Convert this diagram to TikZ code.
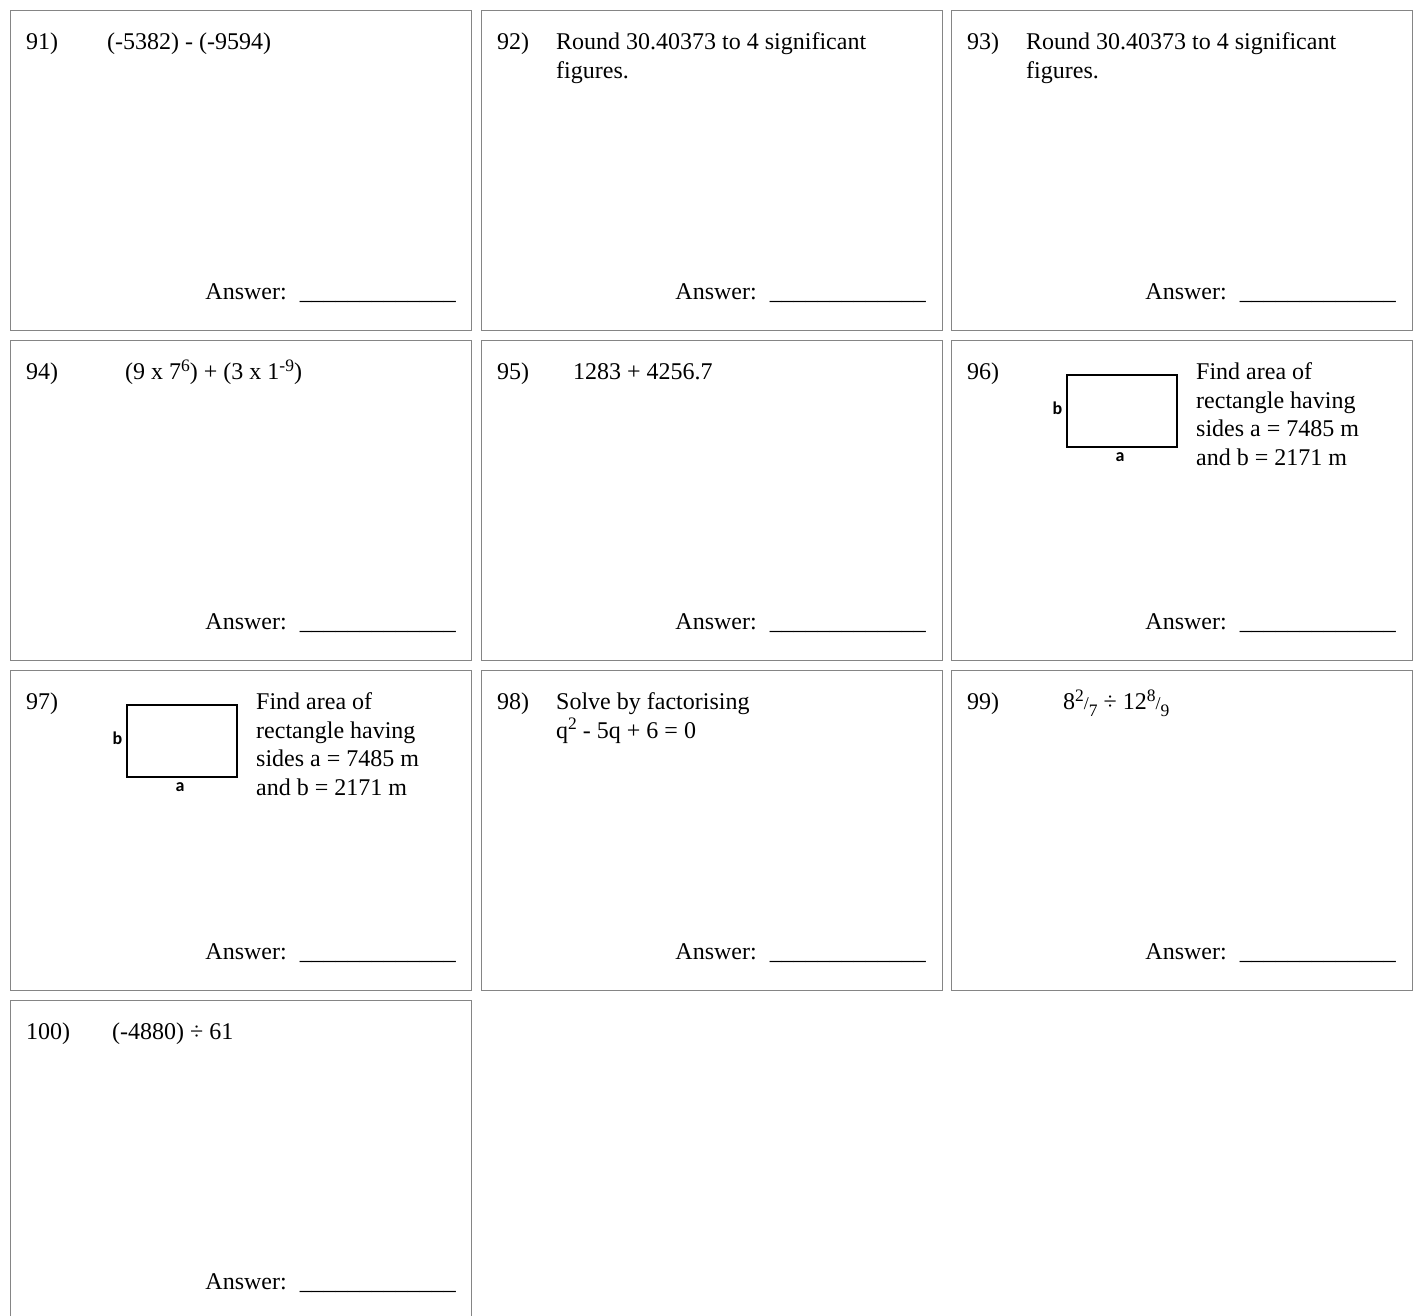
\documentclass[tikz,border=0pt]{standalone}
\usepackage{fontspec}
\setmainfont{Liberation Serif}
\newfontfamily\carlito{Carlito}
\definecolor{boxgray}{HTML}{858585}
\newcommand{\upx}[1]{\raisebox{8.5pt}{\fontsize{17.5}{17.5}\selectfont #1}}
\newcommand{\dnx}[1]{\raisebox{-6.5pt}{\fontsize{17.5}{17.5}\selectfont #1}}
\newcommand{\slsh}{{\fontsize{18}{18}\selectfont /}}
\newcommand{\blank}{\_\_\_\_\_\_\_\_\_\_\_\_\_}
\begin{document}
\begin{tikzpicture}[x=1pt,y=-1pt,
  qbox/.style={draw=boxgray, line width=1.3pt, minimum width=461, minimum height=320, anchor=north west, inner sep=0},
  txt/.style={anchor=base west, inner sep=0, font=\fontsize{24}{29}\selectfont},
  ans/.style={anchor=base east, inner sep=0, font=\fontsize{24}{29}\selectfont},
  figrect/.style={draw=black, line width=2.2pt, minimum width=110, minimum height=72, anchor=north west, inner sep=0},
  lab/.style={inner sep=0, font=\carlito\bfseries\fontsize{18}{18}\selectfont}]
\useasboundingbox (0,0) rectangle (1414,1315);
\fill[white] (0,0) rectangle (1414,1315);
% boxes
\node[qbox] (box91) at (10,10) {};
\node[qbox] (box92) at (481,10) {};
\node[qbox] (box93) at (951,10) {};
\node[qbox] (box94) at (10,340) {};
\node[qbox] (box95) at (481,340) {};
\node[qbox] (box96) at (951,340) {};
\node[qbox] (box97) at (10,670) {};
\node[qbox] (box98) at (481,670) {};
\node[qbox] (box99) at (951,670) {};
\node[qbox, minimum height=340] (box100) at (10,1000) {};
% row 1
\node[txt] (n91) at (26,49.5) {91)};
\node[txt] (q91) at (107,49.5) {(-5382) - (-9594)};
\node[txt] (n92) at (497,49.5) {92)};
\node[txt] (q92a) at (556,49.5) {Round 30.40373 to 4 significant};
\node[txt] (q92b) at (556,78.2) {figures.};
\node[txt] (n93) at (967,49.5) {93)};
\node[txt] (q93a) at (1026,49.5) {Round 30.40373 to 4 significant};
\node[txt] (q93b) at (1026,78.2) {figures.};
\node[ans] (a91) at (456,299) {Answer:\hspace{13pt}\blank};
\node[ans] (a92) at (926,299) {Answer:\hspace{13pt}\blank};
\node[ans] (a93) at (1396,299) {Answer:\hspace{13pt}\blank};
% row 2
\node[txt] (n94) at (26,379.5) {94)};
\node[txt] (q94) at (125,379.5) {(9 x 7\upx{6}) + (3 x 1\upx{-9})};
\node[txt] (n95) at (497,379.5) {95)};
\node[txt] (q95) at (573,379.5) {1283 + 4256.7};
\node[txt] (n96) at (967,379.5) {96)};
\node[figrect] (r96) at (1066,374) {};
\node[lab] (b96) at (1057.5,408) {b};
\node[lab] (a96lab) at (1120,457) {a};
\node[txt] (q96a) at (1196,379.5) {Find area of};
\node[txt] (q96b) at (1196,408.2) {rectangle having};
\node[txt] (q96c) at (1196,436.9) {sides a = 7485 m};
\node[txt] (q96d) at (1196,465.6) {and b = 2171 m};
\node[ans] (a94) at (456,629) {Answer:\hspace{13pt}\blank};
\node[ans] (a95) at (926,629) {Answer:\hspace{13pt}\blank};
\node[ans] (a96) at (1396,629) {Answer:\hspace{13pt}\blank};
% row 3
\node[txt] (n97) at (26,709.5) {97)};
\node[figrect] (r97) at (126,704) {};
\node[lab] (b97) at (117.5,738) {b};
\node[lab] (a97lab) at (180,787) {a};
\node[txt] (q97a) at (256,709.5) {Find area of};
\node[txt] (q97b) at (256,738.2) {rectangle having};
\node[txt] (q97c) at (256,766.9) {sides a = 7485 m};
\node[txt] (q97d) at (256,795.6) {and b = 2171 m};
\node[txt] (n98) at (497,709.5) {98)};
\node[txt] (q98a) at (556,709.5) {Solve by factorising};
\node[txt] (q98b) at (556,738.2) {q\upx{2} - 5q + 6 = 0};
\node[txt] (n99) at (967,709.5) {99)};
\node[txt] (q99) at (1063,709.5) {8\upx{2}\slsh\dnx{7} ÷ 12\upx{8}\slsh\dnx{9}};
\node[ans] (a97) at (456,959) {Answer:\hspace{13pt}\blank};
\node[ans] (a98) at (926,959) {Answer:\hspace{13pt}\blank};
\node[ans] (a99) at (1396,959) {Answer:\hspace{13pt}\blank};
% row 4
\node[txt] (n100) at (26,1039.5) {100)};
\node[txt] (q100) at (112,1039.5) {(-4880) ÷ 61};
\node[ans] (a100) at (456,1289) {Answer:\hspace{13pt}\blank};
\end{tikzpicture}
\end{document}
